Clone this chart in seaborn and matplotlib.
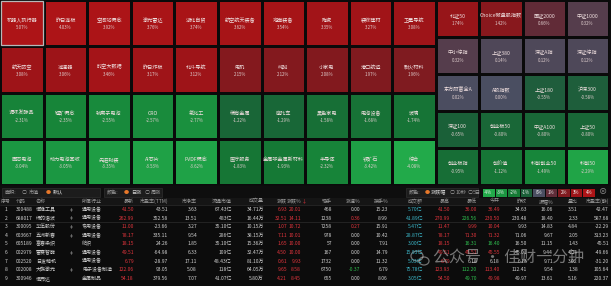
import numpy as np
import pandas as pd
import matplotlib
matplotlib.use("Agg")
import matplotlib.pyplot as plt
import seaborn as sns
from matplotlib.colors import LinearSegmentedColormap
from matplotlib.patches import Rectangle, Ellipse

sns.set_theme(style="dark")
plt.rcParams['font.family'] = ['Noto Sans CJK SC', 'DejaVu Sans']
plt.rcParams['axes.unicode_minus'] = False

# ---- sector heatmap (left block) ----
sector_names = [
    ['机器人执行器', '昨日连板', '空间站概念', '激光雷达', '湖北自贸', '航空航天装备', '地面装备', '陶瓷', '装修建材', '卫星导航'],
    ['航天防空', '减速器', '时空大数据', '昨日炸板', '北斗导航', '电机', '纯碱', '小家电', '港口航运', '耐火材料'],
    ['调味发酵品', '锂矿概念', '钠离子电池', 'CRO', '氟化工', '稀有金属', '摩托车', '黑色家电', '电池设备', '玻璃'],
    ['固态电池', '动力电池回收', '先进封装', 'AI芯片', 'PVDF概念', '医疗服务', '金属非金属新材料', '半导体', '铁矿石', '综合'],
]
sector_pct = [
    [5.07, 4.03, 3.92, 3.76, 3.74, 3.62, 3.54, 3.35, 3.27, 3.08],
    [3.08, 3.06, 3.46, 3.17, 3.12, 2.15, 2.12, 2.08, 1.97, 1.96],
    [-2.31, -2.35, -2.55, -2.57, -2.77, -1.22, -1.29, -1.58, -1.68, -1.74],
    [-3.04, -3.05, -3.35, -3.53, -3.62, -1.83, -1.93, -2.32, -3.42, -4.08],
]

# ---- index heatmap (right block) ----
index_names = [
    ['北证50', 'Choice微盘股指数', '国证2000', '中证1000'],
    ['中小综指', '上证380', '深证A指', '深证综指'],
    ['东方财富全A', 'A股指数', '上证180', '沪深300'],
    ['深证100', '创业板50', '中证A100', '上证50'],
    ['创业板指', '创价值', '科创创业50', '科创50'],
]
index_pct = [
    [1.74, 1.42, 0.66, 0.32],
    [0.32, 0.14, 0.12, 0.12],
    [0.02, 0.00, -0.55, -0.58],
    [-0.65, -0.80, -0.80, -0.80],
    [-0.95, -1.12, -1.49, -2.29],
]

legend_steps = [-4, -3, -2, -1, 0, 1, 2, 3, 4]

# ---- stock table ----
headers = ['序号', '代码', '名称', '', '所属行业', '最新', '市盈率(TTM)', '市净率', '流通市值', '成交量',
           '涨跌', '涨跌%', '现手', '涨速%', '换手%', '成交额', '最高', '最低', '今开', '昨收', '振幅%', '量比', '市盈率(静)']
codes = ['300488', '688017', '300095', '603667', '605189', '002979', '002520', '002008', '300946']
names = ['恒锋工具', '绿的谐波', '华伍股份', '五洲新春', '富春染织', '雷赛智能', '日发精机', '大族激光', '恒而达']
has_badge = [True, True, True, True, False, True, False, True, False]
industries = ['通用设备', '通用设备', '专用设备', '通用设备', '纺织', '通用设备', '通用设备', '电子设备制造', '金属制品']
latest = [41.50, 262.99, 11.00, 78.17, 18.15, 49.51, 6.79, 122.06, 54.18]
pe_ttm = [43.51, 352.58, -23.66, 335.11, 24.26, -64.98, -28.97, 93.05, 379.56]
pb = [3.63, 13.51, 3.27, 9.54, 1.85, 6.33, 17.11, 5.08, 7.07]
float_cap = ['67.43亿', '483亿', '35.10亿', '286亿', '35.10亿', '109亿', '48.43亿', '118亿', '41.07亿']
volume = ['34.71万', '16.44万', '10.15万', '38.15万', '15.36万', '32.47万', '81.10万', '64.05万', '5.80万']
change = [6.93, 32.51, 1.07, 7.11, 1.65, 4.50, 0.61, 9.65, 4.21]
change_pct = [20.01, 14.11, 10.72, 10.01, 10.00, 10.00, 9.93, 8.58, 8.45]
last_hand = [468, 1238, 7258, 978, 57, 167, 1732, 6750, 655]
speed = [0.00, 0.36, 0.27, 0.00, 0.00, 0.00, 0.00, -0.37, 0.00]
turnover = [15.23, 8.99, 15.91, 10.42, 7.91, 14.79, 11.32, 6.79, 8.06]
amount = ['5.70亿', '41.89亿', '5.47亿', '28.87亿', '3.00亿', '15.93亿', '5.03亿', '75.78亿', '3.05亿']
high = [41.50, 270.99, 11.47, 78.17, 18.15, 49.51, 6.79, 123.93, 54.50]
low = [36.00, 226.56, 9.99, 71.30, 16.31, 45.51, 6.18, 112.20, 49.70]
open_ = [36.49, 230.50, 10.04, 71.32, 16.40, 45.55, 6.18, 113.40, 49.98]
prev_close = [34.63, 230.48, 9.93, 71.06, 16.50, 45.01, 6.18, 112.41, 49.97]
amplitude = [16.06, 18.40, 14.83, 9.67, 11.15, 9.44, 9.71, 9.54, 13.61]
vol_ratio = [3.51, 2.33, 4.84, 2.05, 1.43, 4.04, 3.02, 1.38, 5.16]
pe_static = [42.47, 587.68, -22.29, 313.23, 45.51, -49.66, -31.20, 105.64, 220.37]

RED, GREEN, WHITE, CYAN, GREY = '#e0343c', '#2fbf4f', '#cfcfcf', '#3bb6c8', '#9a9a9a'

nodes = [(-4, '#22aa4a'), (-3, '#1b9641'), (-2, '#157b35'), (-1, '#1a5f38'), (0, '#4a4f62'),
         (1, '#5f2c38'), (2, '#801a1f'), (3, '#9c1418'), (4, '#ad1417')]
cmap = LinearSegmentedColormap.from_list('updown', [((v + 4) / 8, c) for v, c in nodes])

W, H = 611, 286
fig = plt.figure(figsize=(W / 100, H / 100), dpi=100, facecolor='#0c0c0c')


def box(x, y, w, h):
    return [x / W, 1 - (y + h) / H, w / W, h / H]


bg = fig.add_axes([0, 0, 1, 1])
bg.set_xlim(0, W)
bg.set_ylim(H, 0)
bg.axis('off')


def tile_block(ax, names_, vals, vmin, vmax, name_y, pct_y, fs):
    sns.heatmap(pd.DataFrame(vals), ax=ax, cmap=cmap, vmin=vmin, vmax=vmax, cbar=False,
                linewidths=0.9, linecolor='#0a0a0a', xticklabels=False, yticklabels=False)
    for i, row in enumerate(vals):
        for j, v in enumerate(row):
            ax.text(j + 0.5, i + name_y, names_[i][j], ha='center', va='center',
                    color='#eedede', fontsize=fs)
            ax.text(j + 0.5, i + pct_y, f'{v:.2f}%', ha='center', va='center',
                    color='#e0cfcf', fontsize=fs - 0.6)


ax1 = fig.add_axes(box(0, 0, 436, 185))
tile_block(ax1, sector_names, sector_pct, -4, 4, 0.45, 0.6, 3.7)
ax1.add_patch(Rectangle((0.02, 0.02), 0.96, 0.96, fill=False, ec='#b8b8b8', lw=0.9))

ax2 = fig.add_axes(box(436, 0, 173, 185))
tile_block(ax2, index_names, index_pct, -2.5, 2.5, 0.43, 0.63, 3.7)

# ---- toolbar ----
bg.add_patch(Rectangle((0, 186), W, 12, fc='#0e0e0e', ec='none'))
for x0, w in [(2, 98), (104, 58), (406, 72)]:
    bg.add_patch(Rectangle((x0, 187.5), w, 9, fc='#1c1c1c', ec='#2e2e2e', lw=0.5))
ORANGE = '#e8782a'
segments = [
    (5, '面积:', GREY), (22, '○', GREY), (29, '市值', GREY), (46, '●', ORANGE), (53, '默认', WHITE),
    (107, '颜色:', GREY), (124, '●', ORANGE), (131, '日涨', WHITE), (145, '○', GREY), (151, '周涨', GREY),
    (409, '颜色:', GREY), (425, '●', ORANGE), (431, '涨跌幅', WHITE), (450, '○', GREY), (456, '10秒', GREY),
    (468, '○', GREY), (473, '5日', GREY),
]
for x, t, c in segments:
    bg.text(x, 192.2, t, ha='left', va='center', color=c, fontsize=3.7)
bg.text(603, 192, '⊗', ha='center', va='center', color='#8a8a8a', fontsize=6)

ax3 = fig.add_axes(box(482, 187.5, 113, 9))
sns.heatmap([legend_steps], ax=ax3, cmap=cmap, vmin=-4, vmax=4, cbar=False,
            annot=[[f'{s}%' for s in legend_steps]], fmt='',
            annot_kws={'fontsize': 3.2, 'color': '#f0f0f0'},
            linewidths=0.6, linecolor='#0c0c0c', xticklabels=False, yticklabels=False)

# ---- table ----
bg.add_patch(Rectangle((0, 198), W, 7, fc='#151515', ec='none'))
bg.plot([0, W], [205.2, 205.2], color='#2c2c2c', lw=0.5)
bg.plot([0, W], [222.2, 222.2], color='#2c2c2c', lw=0.5)

cols = [(6, 'center'), (16, 'left'), (36, 'left'), (71, 'center'), (82, 'left'), (134, 'right'),
        (168, 'right'), (197, 'right'), (232, 'right'), (264, 'right'), (287, 'right'), (301, 'right'),
        (332, 'right'), (360, 'right'), (388, 'right'), (423, 'right'), (450, 'right'), (477, 'right'),
        (500, 'right'), (527, 'right'), (553, 'right'), (578, 'right'), (609, 'right')]
FS = 3.6
for (x, ha), h in zip(cols, headers):
    bg.text(x, 201.3, h, ha=ha, va='center', color=GREY, fontsize=FS)
bg.text(302, 201.3, '↓', ha='left', va='center', color=RED, fontsize=FS)


def updown(v, ref):
    return RED if v > ref else (GREEN if v < ref else WHITE)


for r in range(len(codes)):
    y = 209.5 + r * 8.6
    cells = [
        (str(r + 1), WHITE), (codes[r], WHITE), (names[r], WHITE), ('‡' if has_badge[r] else '', GREY),
        (industries[r], WHITE), (f'{latest[r]:.2f}', updown(latest[r], prev_close[r])),
        (f'{pe_ttm[r]:.2f}', WHITE), (f'{pb[r]:.2f}', WHITE), (float_cap[r], WHITE), (volume[r], WHITE),
        (f'{change[r]:.2f}', updown(change[r], 0)), (f'{change_pct[r]:.2f}', updown(change_pct[r], 0)),
        (str(last_hand[r]), WHITE), (f'{speed[r]:.2f}', updown(speed[r], 0)), (f'{turnover[r]:.2f}', WHITE),
        (amount[r], CYAN), (f'{high[r]:.2f}', updown(high[r], prev_close[r])),
        (f'{low[r]:.2f}', updown(low[r], prev_close[r])), (f'{open_[r]:.2f}', updown(open_[r], prev_close[r])),
        (f'{prev_close[r]:.2f}', WHITE), (f'{amplitude[r]:.2f}', WHITE), (f'{vol_ratio[r]:.2f}', WHITE),
        (f'{pe_static[r]:.2f}', WHITE),
    ]
    for (x, ha), (t, c) in zip(cols, cells):
        bg.text(x, y, t, ha=ha, va='center', color=c, fontsize=FS)

# watermark (wechat logo + account name)
bg.add_patch(Ellipse((417, 256), 12, 10, fill=False, ec='#d8d8d8', lw=0.9, alpha=0.5))
bg.add_patch(Ellipse((424, 261), 10, 8, fill=False, ec='#d8d8d8', lw=0.9, alpha=0.5))
bg.text(433, 257.5, '公众号 · 佳财一分钟', ha='left', va='center', color='#e0e0e0',
        alpha=0.5, fontsize=11.5)

fig.savefig('out.png', dpi=100, facecolor=fig.get_facecolor())
